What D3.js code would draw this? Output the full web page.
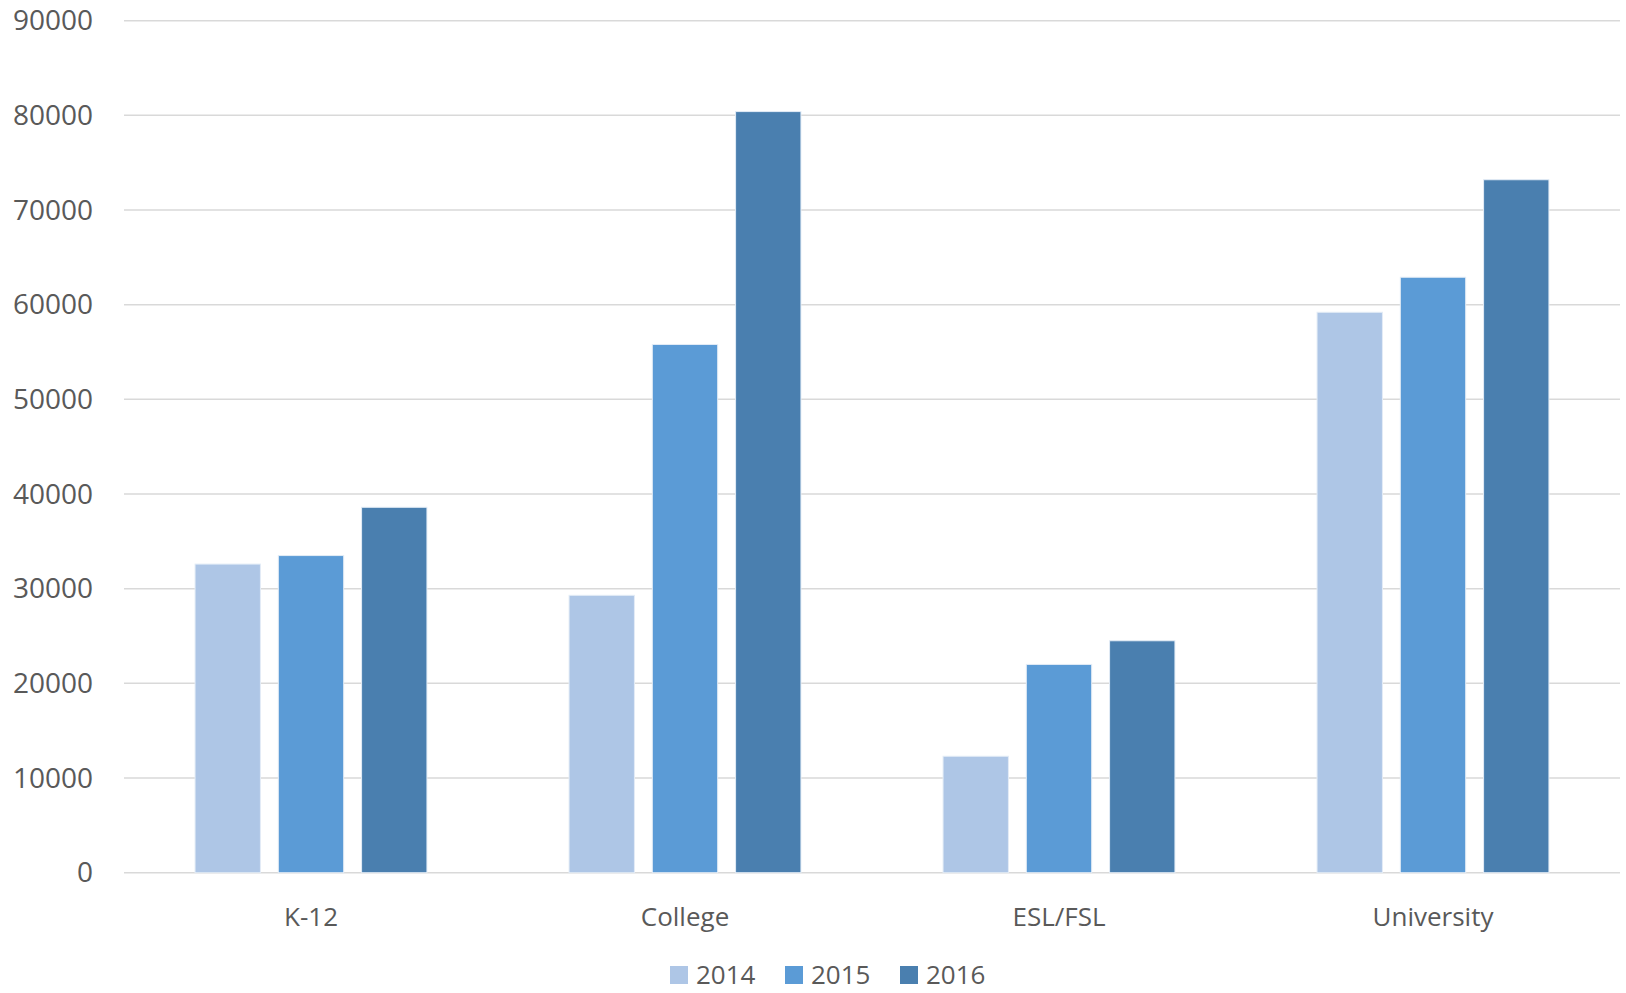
<!DOCTYPE html>
<html>
<head>
<meta charset="utf-8">
<script src="https://cdn.jsdelivr.net/npm/d3@7"></script>
<style>
  body { margin: 0; background: #fff; }
  text { font-family: "Open Sans", "Noto Sans", sans-serif; fill: #595959; }
</style>
</head>
<body>
<svg id="chart" width="1626" height="993"></svg>
<script>
// chart data
const categories = ['K-12', 'College', 'ESL/FSL', 'University'];
const years = ['2014', '2015', '2016'];
const values2014 = [32600, 29300, 12300, 59200];
const values2015 = [33500, 55800, 22000, 62900];
const values2016 = [38600, 80400, 24500, 73200];
const yTicks = [0, 10000, 20000, 30000, 40000, 50000, 60000, 70000, 80000, 90000];
const colors = ['#aec6e6', '#5b9bd6', '#4a7faf'];

const series = [values2014, values2015, values2016];
const svg = d3.select('#chart');
const margin = { top: 20.7, right: 6, bottom: 120.3, left: 124 };
const width = 1626 - margin.left - margin.right;
const height = 993 - margin.top - margin.bottom;

const g = svg.append('g').attr('transform', `translate(${margin.left},${margin.top})`);

const x = d3.scaleBand().domain(categories).range([0, width]);
const bandInner = x.bandwidth() * 0.62;
const xs = d3.scaleBand().domain(years).range([0, bandInner]).paddingInner(0.215);
const y = d3.scaleLinear().domain([0, 90000]).range([height, 0]);

// gridlines
g.append('g')
  .selectAll('line')
  .data(yTicks)
  .join('line')
  .attr('x1', 0)
  .attr('x2', width)
  .attr('y1', (d) => y(d))
  .attr('y2', (d) => y(d))
  .attr('stroke', '#d9d9d9')
  .attr('stroke-width', 1.5);

// y labels
const yAxis = d3.axisLeft(y).tickValues(yTicks).tickFormat(d3.format('d')).tickSize(0).tickPadding(31);
g.append('g').call(yAxis)
  .call((a) => a.select('.domain').remove())
  .selectAll('text')
  .style('font-size', '28px')
  .attr('fill', '#595959');

// bars
const groups = g.append('g')
  .selectAll('g')
  .data(categories)
  .join('g')
  .attr('transform', (d) => `translate(${x(d) + (x.bandwidth() - bandInner) / 2},0)`);

groups.selectAll('rect')
  .data((d, i) => years.map((yr, k) => ({ yr, v: series[k][i], k })))
  .join('rect')
  .attr('x', (d) => xs(d.yr))
  .attr('width', xs.bandwidth())
  .attr('y', (d) => y(d.v))
  .attr('height', (d) => y(0) - y(d.v))
  .attr('fill', (d) => colors[d.k])
  .attr('stroke', '#e3ecf6')
  .attr('stroke-width', 1);

// category labels
const xAxis = d3.axisBottom(x).tickSize(0).tickPadding(35);
g.append('g').attr('transform', `translate(0,${height})`).call(xAxis)
  .call((a) => a.select('.domain').remove())
  .selectAll('text')
  .style('font-size', '26px')
  .attr('fill', '#595959');

// legend
const legend = svg.append('g').attr('transform', 'translate(670,966)');
const items = legend.selectAll('g')
  .data(years)
  .join('g')
  .attr('transform', (d, i) => `translate(${i * 115},0)`);
items.append('rect')
  .attr('width', 18)
  .attr('height', 18)
  .attr('fill', (d, i) => colors[i]);
items.append('text')
  .attr('x', 26)
  .attr('y', 9)
  .attr('dy', '0.36em')
  .style('font-size', '26px')
  .text((d) => d);
</script>
</body>
</html>
